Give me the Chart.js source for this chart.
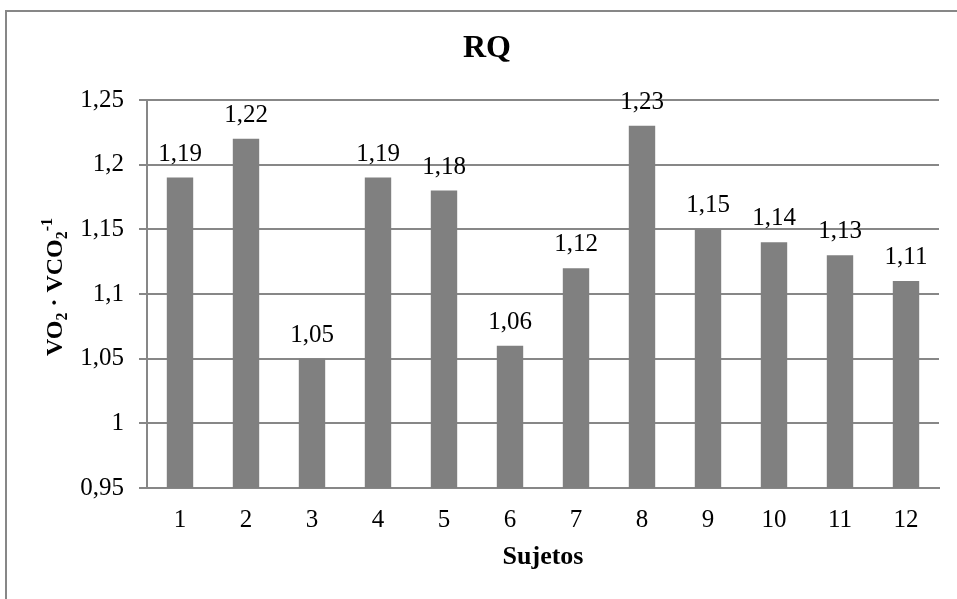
<!DOCTYPE html>
<html>
<head>
<meta charset="utf-8">
<title>RQ</title>
<script src="https://cdn.jsdelivr.net/npm/chart.js@4/dist/chart.umd.min.js"></script>
<style>
    html, body { margin: 0; padding: 0; background: #fff; }
    canvas { display: block; }
</style>
</head>
<body>
<canvas id="myChart" width="957" height="599"></canvas>
<script>
// data
const sujetos = ['1', '2', '3', '4', '5', '6', '7', '8', '9', '10', '11', '12']
const rq = [1.19, 1.22, 1.05, 1.19, 1.18, 1.06, 1.12, 1.23, 1.15, 1.14, 1.13, 1.11]
const rqLabels = ['1,19', '1,22', '1,05', '1,19', '1,18', '1,06', '1,12', '1,23', '1,15', '1,14', '1,13', '1,11']
const yTickLabels = ['0,95', '1', '1,05', '1,1', '1,15', '1,2', '1,25']
const yMin = 0.95
const yMax = 1.25
const yStep = 0.05

const serif = '"Liberation Serif", "Times New Roman", serif'
const gray = '#878787'

// outer frame of the chart (only top and left edges visible)
const framePlugin = {
    id: 'frame',
    beforeDraw(chart) {
        const ctx = chart.ctx
        ctx.save()
        ctx.fillStyle = '#fff'
        ctx.fillRect(0, 0, chart.width, chart.height)
        ctx.strokeStyle = gray
        ctx.lineWidth = 2
        ctx.beginPath()
        ctx.moveTo(6, chart.height)
        ctx.lineTo(6, 11)
        ctx.lineTo(chart.width, 11)
        ctx.stroke()
        ctx.restore()
    }
}

// value labels above each bar
const barLabels = {
    id: 'barLabels',
    afterDatasetsDraw(chart) {
        const ctx = chart.ctx
        const meta = chart.getDatasetMeta(0)
        ctx.save()
        ctx.font = '25px ' + serif
        ctx.fillStyle = '#000'
        ctx.textAlign = 'center'
        ctx.textBaseline = 'alphabetic'
        meta.data.forEach((bar, i) => {
            ctx.fillText(rqLabels[i], bar.x, bar.y - 17)
        })
        ctx.restore()
    }
}

// y title with sub/superscripts: VO2 · VCO2-1
const yTitle = {
    id: 'yTitle',
    afterDraw(chart) {
        const ctx = chart.ctx
        const area = chart.chartArea
        const big = 'bold 24px ' + serif
        const small = 'bold 16px ' + serif
        const parts = [
            {t: 'VO', f: big, dy: 0},
            {t: '2', f: small, dy: 5},
            {t: ' \u00b7 VCO', f: big, dy: 0},
            {t: '2', f: small, dy: 5},
            {t: '-1', f: small, dy: -10}
        ]
        let total = 0
        parts.forEach(p => {
            ctx.font = p.f
            p.w = ctx.measureText(p.t).width
            total += p.w
        })
        ctx.save()
        ctx.translate(54, (area.top + area.bottom) / 2 - 7)
        ctx.rotate(-Math.PI / 2)
        ctx.fillStyle = '#000'
        ctx.textAlign = 'left'
        ctx.textBaseline = 'alphabetic'
        let x = -total / 2
        parts.forEach(p => {
            ctx.font = p.f
            ctx.fillText(p.t, x, 8 + p.dy)
            x += p.w
        })
        ctx.restore()
    }
}

Chart.defaults.font.family = serif
Chart.defaults.color = '#000'

let ctx = document.getElementById('myChart').getContext('2d')
var chart = new Chart(ctx, {
    type: 'bar',
    data: {
        labels: sujetos,
        datasets: [{
            label: 'RQ',
            data: rq,
            backgroundColor: '#808080',
            borderWidth: 0,
            barPercentage: 0.4,
            categoryPercentage: 1
        }]
    },
    options: {
        responsive: false,
        animation: false,
        devicePixelRatio: 1,
        layout: {
            // left padding shifts the centred title to where the reference has it
            padding: {left: 35, right: 18, top: 0, bottom: 0}
        },
        plugins: {
            legend: {display: false},
            tooltip: {enabled: false},
            title: {
                display: true,
                text: 'RQ',
                color: '#000',
                font: {size: 32, weight: 'bold', family: serif},
                padding: {top: 30, bottom: 31.6}
            }
        },
        scales: {
            x: {
                grid: {display: false},
                border: {display: true, color: gray, width: 2},
                ticks: {
                    font: {size: 25},
                    padding: 9,
                    maxRotation: 0,
                    autoSkip: false
                },
                title: {
                    display: true,
                    text: 'Sujetos',
                    font: {size: 26, weight: 'bold'},
                    padding: {top: 0, bottom: 26}
                },
                afterFit(scale) {
                    scale.height = 111
                }
            },
            y: {
                min: yMin,
                max: yMax,
                grid: {color: gray, lineWidth: 2, tickLength: 8},
                border: {display: true, color: gray, width: 2},
                ticks: {
                    stepSize: yStep,
                    font: {size: 25},
                    padding: 15,
                    callback: (value, index) => yTickLabels[index]
                },
                afterFit(scale) {
                    scale.width = 112
                }
            }
        }
    },
    plugins: [framePlugin, barLabels, yTitle]
})
</script>
</body>
</html>
